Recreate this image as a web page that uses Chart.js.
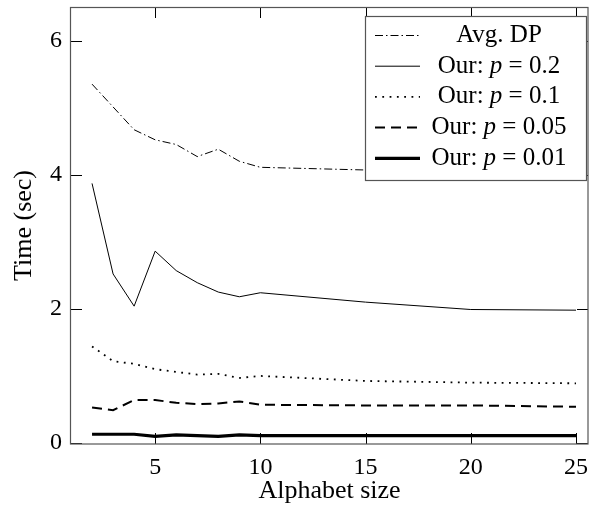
<!DOCTYPE html>
<html><head><meta charset="utf-8">
<script src="https://cdn.jsdelivr.net/npm/chart.js@4.4.1/dist/chart.umd.min.js"></script>
<style>html,body{margin:0;padding:0;background:#fff}canvas{display:block}</style>
</head><body>
<canvas id="c" width="589" height="508"></canvas>
<script>
const alphabetSizes = [2, 3, 4, 5, 6, 7, 8, 9, 10, 15, 20, 25];
const avgDP  = [5.35, 5.01, 4.67, 4.52, 4.45, 4.27, 4.38, 4.20, 4.11, 4.07, 4.05, 4.05];
const our02  = [3.87, 2.52, 2.04, 2.86, 2.57, 2.39, 2.25, 2.18, 2.24, 2.10, 1.99, 1.98];
const our01  = [1.44, 1.22, 1.18, 1.10, 1.06, 1.02, 1.03, 0.97, 1.00, 0.925, 0.90, 0.89];
const our005 = [0.53, 0.49, 0.64, 0.64, 0.60, 0.58, 0.59, 0.62, 0.57, 0.56, 0.56, 0.54];
const our001 = [0.13, 0.13, 0.13, 0.10, 0.12, 0.11, 0.10, 0.12, 0.11, 0.11, 0.11, 0.11];
const seriesLabels = ['Avg. DP', 'Our: p = 0.2', 'Our: p = 0.1', 'Our: p = 0.05', 'Our: p = 0.01'];
const xTicks = [5, 10, 15, 20, 25];
const yTicks = [0, 2, 4, 6];
const xTitle = 'Alphabet size';
const yTitle = 'Time (sec)';

const FONT = "'Liberation Serif', 'Times New Roman', serif";
Chart.defaults.font.family = FONT;
Chart.defaults.color = '#000';

function pts(vals) { return alphabetSizes.map((x, i) => ({ x: x, y: vals[i] })); }

const styles = [
  { borderWidth: 1,   borderDash: [8, 3, 1.5, 3] },
  { borderWidth: 1,   borderDash: [] },
  { borderWidth: 1.8, borderDash: [1.8, 5.5] },
  { borderWidth: 2,   borderDash: [10, 6] },
  { borderWidth: 3.2, borderDash: [] }
];
const seriesValues = [avgDP, our02, our01, our005, our001];

const datasets = seriesValues.map((v, i) => ({
  label: seriesLabels[i],
  data: pts(v),
  borderColor: '#000',
  backgroundColor: '#000',
  borderWidth: styles[i].borderWidth,
  borderDash: styles[i].borderDash,
  pointRadius: 0,
  tension: 0,
  fill: false
}));

function drawLabel(ctx, text, cx, cy, size) {
  const parts = [];
  const m = text.match(/^(.*?)\bp\b(.*)$/);
  if (m) {
    parts.push({ t: m[1], it: false });
    parts.push({ t: 'p', it: true });
    parts.push({ t: m[2], it: false });
  } else parts.push({ t: text, it: false });
  let total = 0;
  parts.forEach(p => {
    ctx.font = (p.it ? 'italic ' : '') + size + 'px ' + FONT;
    p.w = ctx.measureText(p.t).width;
    total += p.w;
  });
  let xx = cx - total / 2;
  ctx.textBaseline = 'middle';
  ctx.textAlign = 'left';
  parts.forEach(p => {
    ctx.font = (p.it ? 'italic ' : '') + size + 'px ' + FONT;
    ctx.fillText(p.t, xx, cy);
    xx += p.w;
  });
}

function noPad(s) { s.paddingLeft = 0; s.paddingRight = 0; s.paddingTop = 0; s.paddingBottom = 0; }

const framePlugin = {
  id: 'frame',
  afterDraw(chart) {
    const { ctx, chartArea: { left, right, top, bottom }, scales: { x, y } } = chart;
    ctx.save();
    ctx.strokeStyle = '#000';
    ctx.lineWidth = 1;
    ctx.setLineDash([]);
    ctx.beginPath();
    xTicks.forEach(v => {
      const px = Math.round(x.getPixelForValue(v)) + 0.5;
      ctx.moveTo(px, bottom); ctx.lineTo(px, bottom - 11);
      ctx.moveTo(px, top); ctx.lineTo(px, top + 11);
    });
    yTicks.forEach(v => {
      const py = Math.round(y.getPixelForValue(v)) + 0.5;
      ctx.moveTo(left, py); ctx.lineTo(left + 11, py);
      ctx.moveTo(right, py); ctx.lineTo(right - 11, py);
    });
    ctx.stroke();
    ctx.strokeStyle = '#555';
    ctx.lineWidth = 1.2;
    ctx.strokeRect(Math.round(left) - 0.5, Math.round(top) + 0.5, Math.round(right - left) + 0.5, Math.round(bottom - top) - 0.5);

    const lx = 365.5, ly = 16.5, lw = 221, lh = 164;
    ctx.fillStyle = '#fff';
    ctx.fillRect(lx, ly, lw, lh);
    ctx.strokeStyle = '#555';
    ctx.lineWidth = 1.2;
    ctx.strokeRect(lx, ly, lw, lh);
    chart.data.datasets.forEach((ds, i) => {
      const ry = 35.5 + i * 30.7;
      ctx.strokeStyle = '#000';
      ctx.lineWidth = ds.borderWidth;
      ctx.setLineDash(ds.borderDash || []);
      ctx.beginPath();
      ctx.moveTo(375, ry); ctx.lineTo(420, ry);
      ctx.stroke();
      ctx.setLineDash([]);
      ctx.fillStyle = '#000';
      drawLabel(ctx, ds.label, 499, ry, 25);
    });
    ctx.restore();
  }
};

new Chart(document.getElementById('c'), {
  type: 'line',
  data: { datasets: datasets },
  plugins: [framePlugin],
  options: {
    responsive: false,
    animation: false,
    devicePixelRatio: 1,
    layout: { padding: { top: 7, right: 1, left: 0, bottom: 0 } },
    plugins: { legend: { display: false }, tooltip: { enabled: false } },
    scales: {
      x: {
        type: 'linear',
        min: 1, max: 25.57,
        afterFit(s) { s.height = 64; noPad(s); },
        afterBuildTicks(s) { s.ticks = xTicks.map(v => ({ value: v })); },
        grid: { display: false, drawTicks: false },
        border: { display: false },
        ticks: { padding: 9, font: { size: 24, family: FONT }, color: '#000', maxRotation: 0, autoSkip: false },
        title: { display: true, text: xTitle, font: { size: 26, family: FONT }, color: '#000', padding: { top: 0, bottom: 1 } }
      },
      y: {
        type: 'linear',
        min: -0.015, max: 6.5,
        afterFit(s) { s.width = 71; noPad(s); },
        afterBuildTicks(s) { s.ticks = yTicks.map(v => ({ value: v })); },
        grid: { display: false, drawTicks: false },
        border: { display: false },
        ticks: { padding: 9, font: { size: 24, family: FONT }, color: '#000', autoSkip: false },
        title: { display: true, text: yTitle, font: { size: 26, family: FONT }, color: '#000', padding: { top: 9, bottom: 0 } }
      }
    }
  }
});
</script>
</body></html>
